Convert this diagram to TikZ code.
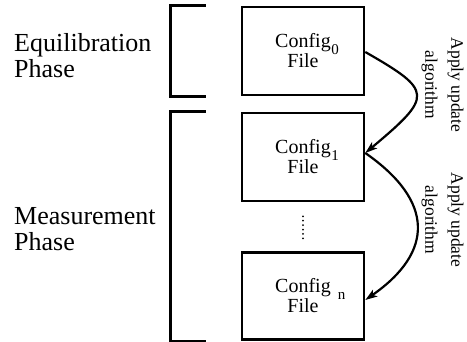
\documentclass[tikz,border=0pt]{standalone}
\usepackage{fontspec}
\setmainfont{Liberation Serif}
\usetikzlibrary{arrows.meta}
\newcommand{\cfgidx}[2]{\rlap{\hspace{#1}\raisebox{-6.5pt}[0pt][0pt]{\fontsize{15}{15}\selectfont #2}}}
\begin{document}
\begin{tikzpicture}[x=1pt,y=-1pt,
  cfgbox/.style={draw, line width=2.6pt, minimum width=122pt, minimum height=88pt,
    inner sep=0pt, align=center, font=\fontsize{20}{20}\selectfont},
  phase/.style={align=left, anchor=west, inner sep=0pt, font=\fontsize{26}{26}\selectfont},
  bracket/.style={line width=2.6pt},
  update/.style={line width=2.2pt, -{Stealth[length=12pt,width=8pt,inset=3pt]}},
  steplabel/.style={rotate=-90, align=center, inner sep=0pt, font=\fontsize{17.5}{26}\selectfont},
  dotline/.style={line width=2pt, line cap=round, dash pattern=on 0pt off 4.4pt}]
  \useasboundingbox (0,0) rectangle (467,341);

  % configuration files
  \node[cfgbox] (b0) at (303,51) {Config\cfgidx{0.5pt}{0}\\File};
  \node[cfgbox] (b1) at (303,157) {Config\cfgidx{0.5pt}{1}\\File};
  \node[cfgbox, minimum height=87pt] (bn) at (303,296) {Config\cfgidx{7pt}{n}\\File};

  % phase brackets
  \draw[bracket] ([xshift=-35pt]b0.north west) -| ([xshift=-70pt]b0.south west)
    -- ([xshift=-35pt]b0.south west);
  \draw[bracket] ([xshift=-35pt]b1.north west) -| ([xshift=-70pt]bn.south west)
    -- ([xshift=-35pt]bn.south west);

  % phase names
  \node[phase] (eq) at (14,56) {Equilibration\\Phase};
  \node[phase] (ms) at (14,229) {Measurement\\Phase};

  % intermediate configurations
  \draw[dotline] ([yshift=-14pt]b1.south) -- ([yshift=11pt]bn.north);

  % update steps
  \draw[update] ([yshift=-1pt]b0.east) .. controls +(68,39) and +(68,-57) .. ([yshift=4pt]b1.east);
  \draw[update] ([yshift=4pt]b1.east) .. controls +(69,48) and +(69,-48) .. ([yshift=-4pt]bn.east);

  \node[steplabel] (l1) at (442.5,85) {Apply update\\algorithm};
  \node[steplabel] (l2) at (442.5,220) {Apply update\\algorithm};
\end{tikzpicture}
\end{document}
